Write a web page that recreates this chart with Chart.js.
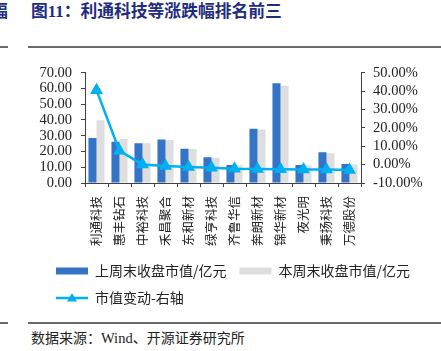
<!DOCTYPE html>
<html lang="zh-CN">
<head>
<meta charset="utf-8" />
<title>图11：利通科技等涨跌幅排名前三</title>
<script src="https://cdn.jsdelivr.net/npm/chart.js@4.4.0/dist/chart.umd.min.js"></script>
<style>
  body { margin: 0; width: 441px; height: 351px; background: #fff; position: relative; overflow: hidden;
         font-family: "Noto Sans CJK SC", sans-serif; }
  .title { position: absolute; left: 31px; top: 0px; font-size: 16.8px; font-weight: bold; color: #1f2c80; line-height: 20px; white-space: nowrap; }
  .cut { position: absolute; left: -9px; top: 0px; font-size: 16.8px; font-weight: bold; color: #1f2c80; line-height: 20px; }
  .rule { position: absolute; height: 2px; background: #6a6a6a; }
  .source { position: absolute; left: 31px; top: 328px; font-size: 14px; color: #222; line-height: 18px; white-space: nowrap; }
  .source .en { font-family: "Liberation Serif", serif; font-size: 14.5px; }
  #chart { position: absolute; left: 0; top: 55px; }
</style>
</head>
<body>
  <div class="cut">幅</div>
  <div class="title">图<span style="font-family:'Liberation Serif',serif">11</span>：利通科技等涨跌幅排名前三</div>
  <div class="rule" style="left:0;width:8px;top:46px"></div>
  <div class="rule" style="left:28px;width:413px;top:46px"></div>

  <canvas id="chart" width="441" height="260"></canvas>

  <div class="rule" style="left:0;width:8px;top:322px"></div>
  <div class="rule" style="left:28px;width:413px;top:322px"></div>
  <div class="source">数据来源：<span class="en">Wind</span>、开源证券研究所</div>

<script>
  // 数据
  const categories = ["利通科技", "惠丰钻石", "中裕科技", "禾昌聚合", "东和新材", "绿亨科技",
                      "齐鲁华信", "奔朗新材", "锦华新材", "夜光明", "秉扬科技", "万德股份"];
  const lastWeekCap = [28.6, 26.1, 25.3, 27.6, 21.8, 16.4, 11.5, 34.5, 63.3, 11.5, 19.5, 12.0];
  const thisWeekCap = [39.8, 27.9, 25.3, 27.3, 21.5, 16.1, 11.2, 33.9, 61.7, 11.2, 18.9, 11.7];
  const capChange   = [40.5, 7.5, 0.1, -0.8, -1.3, -1.7, -2.3, -2.4, -2.5, -2.6, -2.7, -2.9];
  const leftTicks  = [0, 10, 20, 30, 40, 50, 60, 70];
  const rightTicks = [-10, 0, 10, 20, 30, 40, 50];

  const BLUE = "#3473c6";
  const GRAY = "#dedede";
  const CYAN = "#00b0f0";
  const AXIS = "#404040";
  const cjk = '"Noto Sans CJK SC", sans-serif';
  const serif = '"Liberation Serif", serif';

  // legend marker for the line series: short line with a triangle
  const lineMark = document.createElement("canvas");
  lineMark.width = 32; lineMark.height = 12;
  (function () {
    const c = lineMark.getContext("2d");
    c.strokeStyle = CYAN; c.fillStyle = CYAN; c.lineWidth = 2.5;
    c.beginPath(); c.moveTo(0, 6); c.lineTo(32, 6); c.stroke();
    c.beginPath(); c.moveTo(16, 1); c.lineTo(21, 9.5); c.lineTo(11, 9.5); c.closePath(); c.fill();
  })();

  // push the legend rows right so they start under the plot, like the original
  const legendShift = {
    id: "legendShift",
    afterLayout(chart) {
      if (chart.legend) { chart.legend.left += 43; }
    }
  };

  const data = {
    labels: categories,
    datasets: [
      { label: "上周末收盘市值/亿元", data: lastWeekCap, backgroundColor: BLUE, yAxisID: "y" },
      { label: "本周末收盘市值/亿元", data: thisWeekCap, backgroundColor: GRAY, yAxisID: "y" },
      {
        type: "line", label: "市值变动-右轴", data: capChange, yAxisID: "y1",
        borderColor: CYAN, backgroundColor: CYAN, borderWidth: 2.5, tension: 0,
        pointStyle: "triangle", pointRadius: 5, pointBackgroundColor: CYAN, pointBorderColor: CYAN,
        order: -1
      }
    ]
  };

  const config = {
    type: "bar",
    data: data,
    plugins: [legendShift],
    options: {
      responsive: false,
      animation: false,
      layout: { padding: { top: 15, left: 0, right: 0, bottom: 0 } },
      datasets: { bar: { categoryPercentage: 0.7, barPercentage: 1 } },
      plugins: {
        tooltip: { enabled: false },
        legend: {
          position: "bottom",
          align: "start",
          labels: {
            usePointStyle: true,
            pointStyleWidth: 32,
            boxHeight: 7,
            padding: 13,
            color: "#222",
            font: { family: cjk, size: 14 },
            sort: (a, b) => a.datasetIndex - b.datasetIndex,
            generateLabels: (chart) => {
              const items = Chart.defaults.plugins.legend.labels.generateLabels(chart);
              items.forEach((it) => {
                it.lineWidth = 0;
                it.pointStyle = it.datasetIndex === 2 ? lineMark : "rect";
              });
              return items;
            }
          }
        }
      },
      scales: {
        x: {
          grid: { drawOnChartArea: false, drawTicks: true, tickLength: 4, color: AXIS, offset: true },
          border: { color: AXIS, width: 1 },
          ticks: {
            color: "#222", font: { family: cjk, size: 12.5 },
            minRotation: 90, maxRotation: 90, autoSkip: false, padding: 9
          },
          afterFit: (s) => { s.height = 68; }
        },
        y: {
          position: "left", min: 0, max: 70,
          afterBuildTicks: (s) => { s.ticks = leftTicks.map((v) => ({ value: v })); },
          grid: { drawOnChartArea: false, tickLength: 4, color: AXIS },
          border: { color: AXIS, width: 1 },
          ticks: { color: "#222", font: { family: serif, size: 14.5 }, padding: 9, autoSkip: false,
                   callback: (v) => v.toFixed(2) },
          afterFit: (s) => { s.width = 85; }
        },
        y1: {
          position: "right", min: -10, max: 50,
          afterBuildTicks: (s) => { s.ticks = rightTicks.map((v) => ({ value: v })); },
          grid: { drawOnChartArea: false, tickLength: 4, color: AXIS },
          border: { color: AXIS, width: 1 },
          ticks: { color: "#222", font: { family: serif, size: 14.5 }, padding: 8, autoSkip: false,
                   callback: (v) => v.toFixed(2) + "%" },
          afterFit: (s) => { s.width = 80; }
        }
      }
    }
  };

  const myChart = new Chart(document.getElementById("chart"), config);
</script>
</body>
</html>
